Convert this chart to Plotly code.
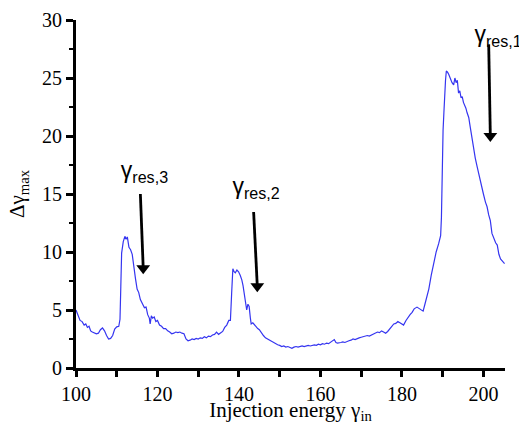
import plotly.graph_objects as go

gamma_in = [100.0, 100.5, 101.0, 101.5, 102.0, 102.4, 102.8, 103.2, 103.6, 104.0, 104.5, 105.0, 105.5, 106.0, 106.5, 107.0, 107.5, 108.0, 108.5, 109.0, 109.5, 110.0, 110.5, 110.8, 111.0, 111.2, 111.6, 112.0, 112.3, 112.6, 113.0, 113.4, 113.8, 114.2, 114.6, 115.0, 115.4, 115.8, 116.3, 116.8, 117.2, 117.6, 118.0, 118.2, 118.5, 118.8, 119.2, 119.6, 120.0, 120.5, 121.0, 121.5, 122.0, 122.5, 123.0, 123.5, 124.0, 124.5, 125.0, 125.5, 126.0, 126.5, 127.0, 127.5, 128.0, 128.5, 129.0, 129.5, 130.0, 130.5, 131.0, 131.5, 132.0, 132.5, 133.0, 133.5, 134.0, 134.5, 135.0, 135.5, 136.0, 136.5, 137.0, 137.5, 137.9, 138.2, 138.5, 138.8, 139.1, 139.5, 139.9, 140.3, 140.7, 141.0, 141.3, 141.6, 141.9, 142.2, 142.5, 142.8, 143.0, 143.4, 143.8, 144.2, 144.6, 145.0, 145.5, 146.0, 146.5, 147.0, 147.5, 148.0, 148.5, 149.0, 149.5, 150.0, 150.5, 151.0, 151.5, 152.0, 152.5, 153.0, 153.5, 154.0, 154.5, 155.0, 155.5, 156.0, 156.5, 157.0, 157.5, 158.0, 158.5, 159.0, 159.5, 160.0, 160.5, 161.0, 161.5, 162.0, 162.5, 163.0, 163.4, 163.8, 164.2, 165.0, 165.5, 166.0, 166.5, 167.0, 167.5, 168.0, 168.5, 169.0, 169.5, 170.0, 170.5, 171.0, 171.5, 172.0, 172.5, 173.0, 173.5, 174.0, 174.5, 175.0, 175.5, 176.0, 176.5, 177.0, 177.5, 178.0, 178.5, 179.0, 179.5, 180.0, 180.4, 181.0, 181.5, 182.0, 182.5, 183.0, 183.7, 184.2, 184.7, 185.2, 185.5, 186.0, 186.6, 187.2, 187.8, 188.4, 189.0, 189.5, 189.7, 189.85, 190.1, 190.3, 190.5, 190.7, 190.9, 191.2, 191.5, 191.9, 192.3, 192.7, 193.0, 193.3, 193.6, 193.9, 194.2, 194.5, 194.8, 195.1, 195.4, 195.7, 196.0, 196.4, 196.8, 197.2, 197.6, 198.0, 198.5, 199.0, 199.5, 200.0, 200.5, 200.9, 201.3, 201.7, 202.1, 202.5, 203.0, 203.4, 203.8, 204.2, 204.6, 205.2]

delta_gamma_max = [5.0, 4.6, 4.1, 4.0, 3.7, 3.8, 3.5, 3.6, 3.2, 3.1, 3.0, 2.95, 3.0, 3.3, 3.45, 3.2, 2.8, 2.5, 2.55, 2.8, 3.35, 3.55, 3.6, 4.2, 7.0, 9.9, 10.9, 11.35, 11.1, 11.3, 10.4, 10.2, 9.8, 8.6, 7.7, 6.8, 6.5, 5.9, 5.6, 5.2, 5.25, 4.6, 4.3, 3.8, 4.5, 4.3, 4.4, 4.0, 4.1, 3.7, 3.6, 3.4, 3.4, 3.2, 3.1, 2.95, 3.0, 3.1, 3.05, 3.1, 3.0, 2.95, 2.5, 2.35, 2.4, 2.5, 2.45, 2.55, 2.5, 2.6, 2.55, 2.7, 2.6, 2.75, 2.7, 2.85, 2.9, 3.1, 2.9, 3.0, 3.15, 3.5, 3.7, 4.1, 4.1, 6.4, 8.55, 8.3, 8.2, 8.45, 8.3, 8.0, 7.6, 7.1, 6.3, 5.6, 5.0, 5.5, 5.3, 4.3, 3.8, 3.9, 3.7, 3.6, 3.4, 3.3, 3.0, 2.8, 2.6, 2.5, 2.35, 2.25, 2.15, 2.1, 2.0, 1.95, 1.85, 1.9, 1.8, 1.85, 1.75, 1.7, 1.8, 1.85, 1.8, 1.85, 1.9, 1.85, 1.9, 1.95, 1.9, 1.95, 2.0, 1.95, 2.05, 2.0, 2.1, 2.05, 2.15, 2.1, 2.2, 2.35, 2.45, 2.2, 2.15, 2.2, 2.25, 2.2, 2.3, 2.35, 2.4, 2.5, 2.45, 2.55, 2.6, 2.65, 2.7, 2.75, 2.8, 2.75, 2.85, 2.95, 3.0, 3.1, 3.05, 3.2, 3.1, 3.0, 3.15, 3.4, 3.6, 3.8, 3.85, 4.0, 3.9, 3.75, 3.7, 4.1, 4.4, 4.6, 4.8, 5.1, 5.25, 5.15, 5.0, 4.9, 5.3, 6.0, 6.8, 8.0, 9.15, 10.0, 10.7, 11.4, 13.0, 17.9, 20.5, 22.0, 24.0, 24.8, 25.6, 25.5, 25.3, 24.9, 24.6, 24.4, 25.0, 24.6, 24.8, 23.7, 23.9, 23.3, 23.4, 22.9, 22.7, 22.4, 22.0, 21.6, 20.7, 19.7, 19.0, 18.1, 17.3, 16.5, 15.6, 15.0, 14.3, 13.9, 13.2, 12.7, 11.6, 11.2, 10.8, 10.6, 9.8, 9.4, 9.2, 9.0]

res_labels = ["γ<sub>res,3</sub>", "γ<sub>res,2</sub>", "γ<sub>res,1</sub>"]
label_x = [111.0, 138.4, 197.8]
label_y = [16.9, 15.5, 28.6]
arrow_tail_x = [115.8, 143.6, 201.3]
arrow_tail_y = [15.0, 13.45, 27.9]
arrow_tip_x = [116.5, 144.5, 201.7]
arrow_tip_y = [8.6, 7.05, 20.0]

x_tickvals = [100, 110, 120, 130, 140, 150, 160, 170, 180, 190, 200]
x_ticktext = ["100", "", "120", "", "140", "", "160", "", "180", "", "200"]

serif = "Liberation Serif"

fig = go.Figure()
fig.add_trace(go.Scatter(x=gamma_in, y=delta_gamma_max, mode="lines",
                         line=dict(color="#3535f0", width=1.2), showlegend=False))

for tx, ty, hx, hy in zip(arrow_tail_x, arrow_tail_y, arrow_tip_x, arrow_tip_y):
    fig.add_trace(go.Scatter(x=[tx, hx], y=[ty, hy], mode="lines",
                             line=dict(color="black", width=2.8), showlegend=False))
    fig.add_trace(go.Scatter(x=[hx], y=[hy], mode="markers",
                             marker=dict(symbol="triangle-down", size=12, color="black"),
                             showlegend=False))

fig.add_trace(go.Scatter(x=label_x, y=label_y, mode="text", text=res_labels,
                         textposition="middle right", cliponaxis=False,
                         textfont=dict(family="Liberation Sans", size=23, color="black"),
                         showlegend=False))

fig.update_xaxes(range=[100, 205.3], showline=True, linecolor="black", linewidth=3,
                 tickmode="array", tickvals=x_tickvals, ticktext=x_ticktext,
                 ticks="outside", ticklen=6, tickwidth=2.5, tickcolor="black",
                 tickfont=dict(family=serif, size=20, color="black"),
                 showgrid=False, zeroline=False, automargin=False,
                 title=dict(text="Injection energy γ<sub>in</sub>", standoff=5,
                            font=dict(family=serif, size=21, color="black")))
fig.update_yaxes(range=[0, 30], showline=True, linecolor="black", linewidth=3,
                 ticks="outside", ticklen=7, tickwidth=2.5, tickcolor="black",
                 minor=dict(dtick=2.5, ticks="outside", ticklen=4, tickwidth=2, tickcolor="black"),
                 tickfont=dict(family=serif, size=20, color="black"),
                 showgrid=False, zeroline=False, automargin=False,
                 title=dict(text="Δγ<sub>max</sub>", standoff=12,
                            font=dict(family=serif, size=21, color="black")))

fig.update_layout(template="simple_white", font=dict(family=serif, color="black", size=20),
                  width=519, height=424, margin=dict(l=76, r=14, t=20, b=56),
                  paper_bgcolor="white", plot_bgcolor="white")

fig.write_html("out.html")
